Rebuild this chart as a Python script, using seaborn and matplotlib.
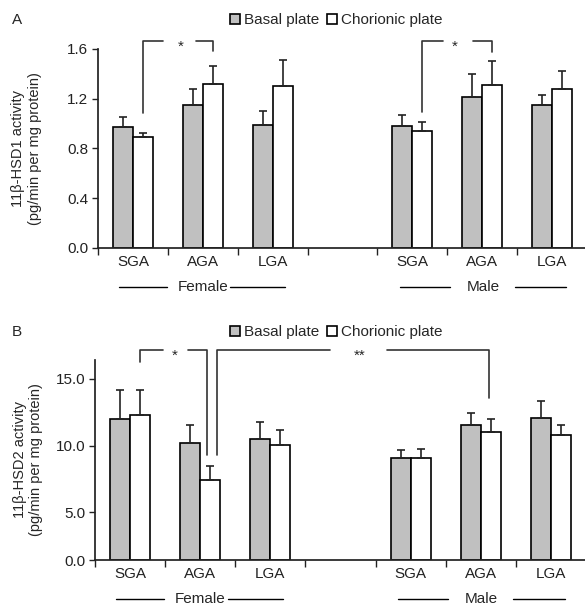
import numpy as np
import pandas as pd
import matplotlib
matplotlib.use("Agg")
import matplotlib.pyplot as plt
import matplotlib.transforms as mtransforms
from matplotlib.ticker import FormatStrFormatter
import seaborn as sns

# --- data ---
slots = ["F_SGA", "F_AGA", "F_LGA", "gap", "M_SGA", "M_AGA", "M_LGA"]
slot_labels = ["SGA", "AGA", "LGA", "", "SGA", "AGA", "LGA"]
groups = ["F_SGA", "F_AGA", "F_LGA", "M_SGA", "M_AGA", "M_LGA"]
plates = ["Basal plate", "Chorionic plate"]

hsd1_basal = [0.97, 1.15, 0.99, 0.98, 1.21, 1.15]
hsd1_basal_err = [0.08, 0.13, 0.11, 0.09, 0.19, 0.08]
hsd1_chorionic = [0.89, 1.32, 1.30, 0.94, 1.31, 1.28]
hsd1_chorionic_err = [0.03, 0.14, 0.21, 0.07, 0.19, 0.14]

hsd2_basal = [12.03, 10.18, 10.48, 9.07, 11.58, 12.08]
hsd2_basal_err = [2.16, 1.40, 1.30, 0.60, 0.90, 1.25]
hsd2_chorionic = [12.28, 7.45, 10.05, 9.07, 11.00, 10.78]
hsd2_chorionic_err = [1.86, 1.06, 1.13, 0.73, 1.03, 0.80]


def make_frame(basal, chorionic):
    return pd.DataFrame({
        "group": groups * 2,
        "plate": [plates[0]] * len(groups) + [plates[1]] * len(groups),
        "value": basal + chorionic,
    })


sns.set_theme(style="ticks")
plt.rcParams["font.family"] = ["Liberation Sans", "DejaVu Sans"]
plt.rcParams["axes.edgecolor"] = "#222222"
plt.rcParams["xtick.color"] = "#222222"
plt.rcParams["ytick.color"] = "#222222"
FS = 11

fig = plt.figure(figsize=(5.85, 6.05), dpi=100)
ax_a = fig.add_axes([98 / 585, 357 / 605, 489 / 585, 199.3 / 605])
ax_b = fig.add_axes([95 / 585, 45 / 605, 491 / 585, 200 / 605])

# panel B's original axis is not linear below 5.0; reproduce its spacing
b_vals = [0, 5, 10, 15, 25]
b_pix = [0, 47.7, 114, 181, 315]
ax_b.set_yscale("function", functions=(lambda v: np.interp(v, b_vals, b_pix),
                                       lambda p: np.interp(p, b_pix, b_vals)))


def draw_panel(ax, df, errs, ylabel, yticks, ylim, label_x):
    sns.barplot(data=df, x="group", y="value", hue="plate", order=slots,
                hue_order=plates, palette=["#c0c0c0", "white"], saturation=1,
                width=0.57, edgecolor="black", linewidth=1.2, errorbar=None, ax=ax)
    for k, cont in enumerate(list(ax.containers)):
        for bar in cont:
            xc = bar.get_x() + bar.get_width() / 2
            g = slots[int(round(xc))]
            e = errs[k][groups.index(g)]
            ax.errorbar(xc, bar.get_height(), yerr=[[0], [e]], fmt="none",
                        ecolor="#222222", elinewidth=1.2, capsize=3, capthick=1.2,
                        zorder=1)
    ax.set_xlim(-0.5, 6.5)
    ax.set_ylim(*ylim)
    ax.set_xticks(np.arange(-0.5, 7, 1))
    ax.set_xticklabels([])
    ax.set_xticks(range(7), minor=True)
    ax.set_xticklabels(slot_labels, minor=True, fontsize=FS)
    ax.tick_params(axis="x", which="major", length=5, width=1)
    ax.tick_params(axis="x", which="minor", length=0, pad=5)
    ax.set_yticks(yticks)
    ax.yaxis.set_major_formatter(FormatStrFormatter("%.1f"))
    ax.tick_params(axis="y", length=4, width=1, labelsize=FS, pad=3)
    ax.set_xlabel("")
    ax.set_ylabel(ylabel, fontsize=10.5, linespacing=1.25)
    ax.yaxis.set_label_coords(label_x, 0.5)
    sns.despine(ax=ax)

    # sex group labels under the categories
    tr = mtransforms.blended_transform_factory(ax.transData, ax.transAxes)
    for name, cx, segs in [("Female", 1.0, [(-0.2, 0.487), (1.39, 2.175)]),
                           ("Male", 5.01, [(3.82, 4.536), (5.466, 6.195)])]:
        ax.text(cx, -0.196, name, transform=tr, ha="center", va="center", fontsize=FS)
        for x0, x1 in segs:
            ax.plot([x0, x1], [-0.196, -0.196], transform=tr, color="black",
                    lw=1, clip_on=False)


def bracket(ax, pts, gap, star, star_x, y_top):
    x_gap0, x_gap1 = gap
    left = [p for p in pts if p[0] <= x_gap0]
    ax.plot([p[0] for p in left] + [x_gap0], [p[1] for p in left] + [y_top],
            color="#333333", lw=1.2, clip_on=False)
    right = [p for p in pts if p[0] >= x_gap1]
    ax.plot([x_gap1] + [p[0] for p in right], [y_top] + [p[1] for p in right],
            color="#333333", lw=1.2, clip_on=False)
    ax.annotate(star, (star_x, y_top), xytext=(0, -7), textcoords="offset points",
                ha="center", va="baseline", fontsize=FS, annotation_clip=False)


draw_panel(ax_a, make_frame(hsd1_basal, hsd1_chorionic),
           [hsd1_basal_err, hsd1_chorionic_err],
           "11β-HSD1 activity\n(pg/min per mg protein)",
           [0, 0.4, 0.8, 1.2, 1.6], (0, 1.6), -0.115)
draw_panel(ax_b, make_frame(hsd2_basal, hsd2_chorionic),
           [hsd2_basal_err, hsd2_chorionic_err],
           "11β-HSD2 activity\n(pg/min per mg protein)",
           [0, 5, 10, 15], (0, 16.4), -0.105)

# significance brackets
bracket(ax_a, [(0.1425, 1.085), (0.1425, 1.664), (1.1425, 1.664), (1.1425, 1.58)],
        (0.434, 0.908), "*", 0.678, 1.664)
bracket(ax_a, [(4.1425, 1.093), (4.1425, 1.664), (5.1425, 1.664), (5.1425, 1.576)],
        (4.436, 4.865), "*", 4.607, 1.664)
bracket(ax_b, [(0.1425, 16.25), (0.1425, 17.15), (1.10, 17.15), (1.10, 9.32)],
        (0.47, 0.827), "*", 0.64, 17.15)
bracket(ax_b, [(1.24, 9.32), (1.24, 17.15), (5.12, 17.15), (5.12, 13.58)],
        (2.85, 3.665), "**", 3.28, 17.15)

for ax, ly in [(ax_a, 1 - 20 / 605), (ax_b, 1 - 332 / 605)]:
    sns.move_legend(ax, "center", bbox_to_anchor=(0.575, ly),
                    bbox_transform=fig.transFigure, ncol=2, frameon=False,
                    title=None, fontsize=FS, handlelength=0.65, handleheight=0.65,
                    handletextpad=0.25, columnspacing=0.5, borderpad=0)

fig.text(12 / 585, 1 - 20 / 605, "A", fontsize=FS, va="center")
fig.text(12 / 585, 1 - 332 / 605, "B", fontsize=FS, va="center")

fig.savefig("out.png", dpi=100)
